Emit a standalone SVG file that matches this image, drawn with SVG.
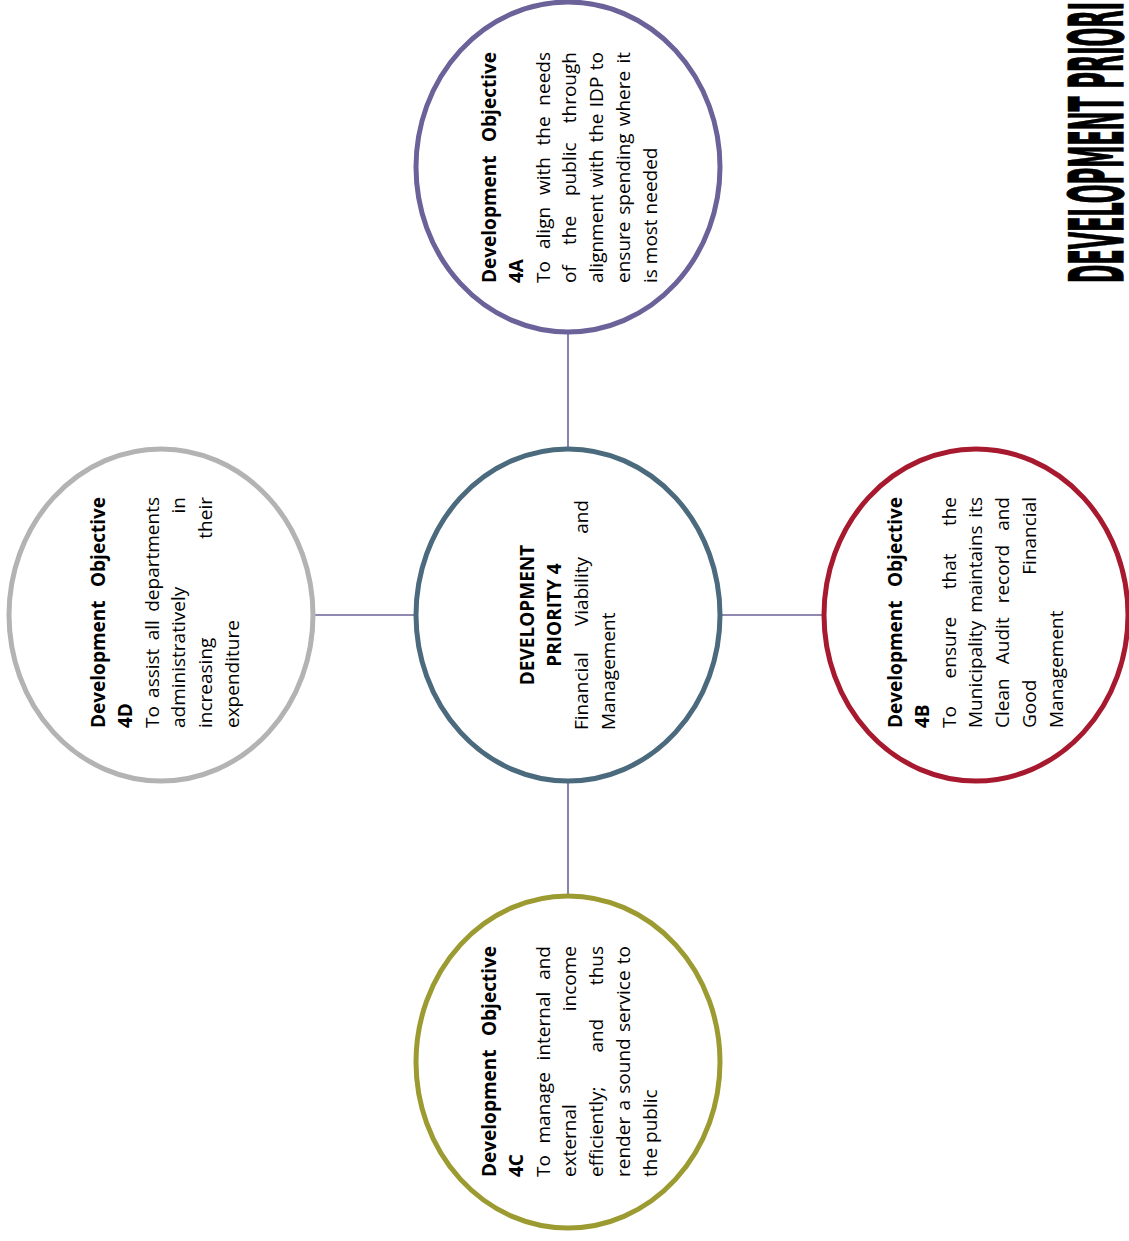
<svg xmlns="http://www.w3.org/2000/svg" width="1129" height="1241" viewBox="0 0 1129 1241">
<style>
.t{font-family:"Open Sans","Liberation Sans",sans-serif;font-size:19px;fill:#000}
.b{font-weight:bold}
.e{text-anchor:end}
.m{text-anchor:middle}
.c{fill:#fff;stroke-width:5}
.ln{stroke:#6A6299;stroke-width:1.6;fill:none}
</style>
<rect width="1129" height="1241" fill="#fff"/>
<g id="connectors">
<line class="ln" x1="568" y1="334" x2="568" y2="448"/>
<line class="ln" x1="568" y1="782" x2="568" y2="895"/>
<line class="ln" x1="314" y1="615" x2="416" y2="615"/>
<line class="ln" x1="720" y1="615" x2="824" y2="615"/>
</g>
<g id="title">
<text transform="translate(0,283) rotate(-90)" x="0" y="1123" font-family="DejaVu Sans, sans-serif" font-weight="bold" font-size="74" textLength="281" lengthAdjust="spacingAndGlyphs" fill="#000" stroke="#000" stroke-width="1.2">DEVELOPMENT PRIORI</text>
</g>
<g id="node-4A">
<ellipse class="c" cx="568" cy="167" rx="152" ry="165" stroke="#6A6299"/>
<g transform="translate(0,283) rotate(-90)" class="t">
<text class="t b" x="0" y="496">Development</text><text class="t b e" x="231" y="496">Objective</text>
<text class="t b" x="0" y="523">4A</text>
<text class="t" x="0" y="550">To</text><text class="t" x="34" y="550">align</text><text class="t" x="88" y="550">with</text><text class="t" x="137.5" y="550">the</text><text class="t e" x="231" y="550">needs</text>
<text class="t" x="0" y="576">of</text><text class="t" x="38" y="576">the</text><text class="t" x="87" y="576">public</text><text class="t e" x="231" y="576">through</text>
<text class="t" x="0" y="603">alignment</text><text class="t" x="95.5" y="603">with</text><text class="t" x="140.4" y="603">the</text><text class="t" x="175.8" y="603">IDP</text><text class="t e" x="231" y="603">to</text>
<text class="t" x="0" y="630">ensure</text><text class="t" x="68.3" y="630">spending</text><text class="t" x="156.7" y="630">where</text><text class="t e" x="231" y="630">it</text>
<text class="t" x="0" y="657">is most needed</text>
</g>
</g>
<g id="node-center">
<ellipse class="c" cx="568" cy="615" rx="152" ry="166" stroke="#4B6A7D"/>
<g transform="translate(0,730) rotate(-90)">
<text class="t b m" x="115" y="534">DEVELOPMENT</text>
<text class="t b m" x="115" y="561">PRIORITY 4</text>
<text class="t" x="0" y="588">Financial</text><text class="t" x="104" y="588">Viability</text><text class="t e" x="230" y="588">and</text>
<text class="t" x="0" y="615">Management</text>
</g>
</g>
<g id="node-4B">
<ellipse class="c" cx="976" cy="615" rx="152" ry="166" stroke="#A7192E"/>
<g transform="translate(0,728) rotate(-90)">
<text class="t b" x="0" y="902">Development</text><text class="t b e" x="231" y="902">Objective</text>
<text class="t b" x="0" y="929">4B</text>
<text class="t" x="0" y="956">To</text><text class="t" x="49.6" y="956">ensure</text><text class="t" x="138.8" y="956">that</text><text class="t e" x="231" y="956">the</text>
<text class="t" x="0" y="982">Municipality</text><text class="t" x="115.2" y="982">maintains</text><text class="t e" x="231" y="982">its</text>
<text class="t" x="0" y="1009">Clean</text><text class="t" x="63.8" y="1009">Audit</text><text class="t" x="124.7" y="1009">record</text><text class="t e" x="231" y="1009">and</text>
<text class="t" x="0" y="1036">Good</text><text class="t e" x="231" y="1036">Financial</text>
<text class="t" x="0" y="1063">Management</text>
</g>
</g>
<g id="node-4C">
<ellipse class="c" cx="568" cy="1062" rx="152" ry="166" stroke="#9C9B32"/>
<g transform="translate(0,1177) rotate(-90)">
<text class="t b" x="0" y="496">Development</text><text class="t b e" x="231" y="496">Objective</text>
<text class="t b" x="0" y="523">4C</text>
<text class="t" x="0" y="550">To</text><text class="t" x="33.5" y="550">manage</text><text class="t" x="116.6" y="550">internal</text><text class="t e" x="231" y="550">and</text>
<text class="t" x="0" y="576">external</text><text class="t e" x="231" y="576">income</text>
<text class="t" x="0" y="603">efficiently;</text><text class="t" x="124.4" y="603">and</text><text class="t e" x="231" y="603">thus</text>
<text class="t" x="0" y="630">render</text><text class="t" x="66.4" y="630">a</text><text class="t" x="83.3" y="630">sound</text><text class="t" x="145" y="630">service</text><text class="t e" x="231" y="630">to</text>
<text class="t" x="0" y="657">the public</text>
</g>
</g>
<g id="node-4D">
<ellipse class="c" cx="161" cy="615" rx="152" ry="166" stroke="#B3B3B3"/>
<g transform="translate(0,728) rotate(-90)">
<text class="t b" x="0" y="105">Development</text><text class="t b e" x="231" y="105">Objective</text>
<text class="t b" x="0" y="132">4D</text>
<text class="t" x="0" y="159">To</text><text class="t" x="30.1" y="159">assist</text><text class="t" x="87.7" y="159">all</text><text class="t e" x="231" y="159">departments</text>
<text class="t" x="0" y="185">administratively</text><text class="t e" x="231" y="185">in</text>
<text class="t" x="0" y="212">increasing</text><text class="t e" x="231" y="212">their</text>
<text class="t" x="0" y="239">expenditure</text>
</g>
</g>
</svg>
